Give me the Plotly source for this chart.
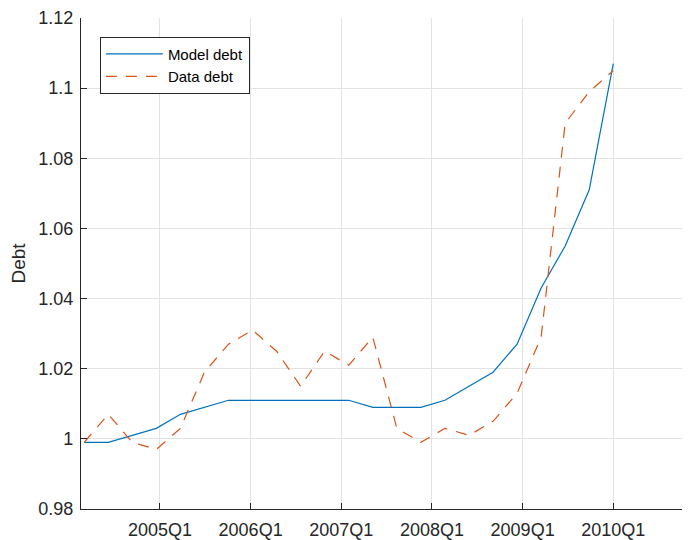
import plotly.graph_objects as go

# Observation index (quarterly periods as plotted)
period = list(range(1, 24))

model_debt = [0.999, 0.999, 1.001, 1.003, 1.007, 1.009, 1.011, 1.011, 1.011, 1.011,
              1.011, 1.011, 1.009, 1.009, 1.009, 1.011, 1.015, 1.019, 1.027, 1.043,
              1.055, 1.071, 1.107]
data_debt = [0.999, 1.007, 0.999, 0.997, 1.003, 1.019, 1.027, 1.031, 1.025, 1.015,
             1.025, 1.021, 1.029, 1.003, 0.999, 1.003, 1.001, 1.005, 1.013, 1.029,
             1.090, 1.099, 1.105]

tick_pos = [4.15, 7.92, 11.69, 15.46, 19.23, 23.0]
tick_labels = ["2005Q1", "2006Q1", "2007Q1", "2008Q1", "2009Q1", "2010Q1"]
y_ticks = [0.98, 1.00, 1.02, 1.04, 1.06, 1.08, 1.10, 1.12]
y_labels = ["0.98", "1", "1.02", "1.04", "1.06", "1.08", "1.1", "1.12"]

fig = go.Figure()
fig.add_trace(go.Scatter(x=period, y=model_debt, mode="lines", name="Model debt",
                         line=dict(color="#0072BD", width=1.2)))
fig.add_trace(go.Scatter(x=period, y=data_debt, mode="lines", name="Data debt",
                         line=dict(color="#D95319", width=1.2, dash="11px,9px")))

axis_col = "#262626"
grid_col = "#e3e3e3"
font_family = "Liberation Sans, Arial, sans-serif"

# The page body keeps its default 8px margin, so the figure is sized to fill
# the remaining window area.
fig.update_layout(
    width=682, height=532,
    margin=dict(l=73, r=0, t=10, b=31, autoexpand=False),
    paper_bgcolor="white", plot_bgcolor="white",
    font=dict(family=font_family, color=axis_col, size=18),
    showlegend=True,
    legend=dict(x=0.031, y=0.962, xanchor="left", yanchor="top",
                bgcolor="white", bordercolor=axis_col, borderwidth=1,
                font=dict(size=15, color="#000000"),
                itemwidth=57, tracegroupgap=0),
    xaxis=dict(range=[0.867, 26.19], tickvals=tick_pos, ticktext=tick_labels,
               automargin=False,
               showgrid=True, gridcolor=grid_col, gridwidth=1,
               showline=True, linecolor=axis_col, linewidth=1.3,
               ticks="inside", ticklen=6, tickcolor=axis_col, tickwidth=1,
               zeroline=False, tickfont=dict(size=18, color=axis_col),
               ticklabelstandoff=4),
    yaxis=dict(range=[0.98, 1.12], tickvals=y_ticks, ticktext=y_labels,
               automargin=False,
               showgrid=True, gridcolor=grid_col, gridwidth=1,
               showline=True, linecolor=axis_col, linewidth=1.3,
               ticks="inside", ticklen=6, tickcolor=axis_col, tickwidth=1,
               zeroline=False, tickfont=dict(size=18, color=axis_col),
               ticklabelstandoff=3,
               title=dict(text="Debt", font=dict(size=19, color=axis_col), standoff=8)),
)

fig.write_html("out.html")
